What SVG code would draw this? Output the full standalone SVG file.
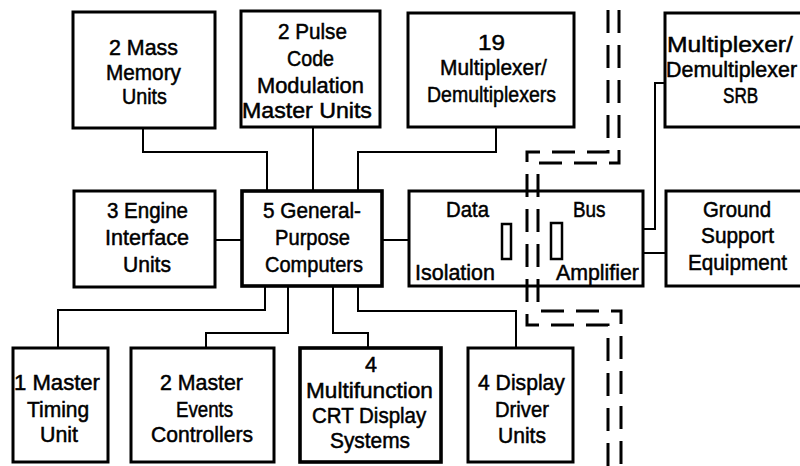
<svg xmlns="http://www.w3.org/2000/svg" width="800" height="466" viewBox="0 0 800 466">
<style>
.box{fill:#fff;stroke:#000;stroke-width:3}
.thick{stroke-width:3.6}
.sm{fill:#fff;stroke:#000;stroke-width:2.5}
.ln{fill:none;stroke:#000;stroke-width:2}
.dash{fill:none;stroke:#000;stroke-width:3;stroke-dasharray:23 12}
text{font-family:"Liberation Sans",Arial,sans-serif;font-size:22px;fill:#000;stroke:#000;stroke-width:0.5}
</style>
<rect width="800" height="466" fill="#fff"/>
<g id="connectors">
<path class="ln" d="M143,128 V152 H267 V191"/>
<path class="ln" d="M313,127 V191"/>
<path class="ln" d="M358,191 V152 H496 V127"/>
<path class="ln" d="M215,240 H242"/>
<path class="ln" d="M382,240 H502"/>
<path class="ln" d="M562,229 H655 V83 H665"/>
<path class="ln" d="M562,253 H666"/>
<path class="ln" d="M265,286 V310 H58 V348"/>
<path class="ln" d="M288,286 V333 H206 V348"/>
<path class="ln" d="M333,286 V333 H368 V348"/>
<path class="ln" d="M358,286 V311 H516 V348"/>
</g>
<g id="mass-memory">
<rect class="box" x="73" y="12" width="142" height="116"/>
<text transform="translate(109,55) scale(0.973,1)">2 Mass</text>
<text transform="translate(106,80) scale(0.944,1)">Memory</text>
<text transform="translate(122,104) scale(0.898,1)">Units</text>
</g>
<g id="pcm">
<rect class="box" x="241" y="11" width="139" height="116"/>
<text transform="translate(278,39) scale(0.94,1)">2 Pulse</text>
<text transform="translate(287,66) scale(0.894,1)">Code</text>
<text transform="translate(257,93) scale(0.994,1)">Modulation</text>
<text transform="translate(242,118) scale(1.053,1)">Master Units</text>
</g>
<g id="mux19">
<rect class="box" x="408" y="13" width="166" height="114"/>
<text transform="translate(478,50) scale(1.1,1)">19</text>
<text transform="translate(440,75) scale(0.951,1)">Multiplexer/</text>
<text transform="translate(427,102) scale(0.887,1)">Demultiplexers</text>
</g>
<g id="mux-srb">
<rect class="box" x="665" y="13" width="150" height="114"/>
<text transform="translate(667,52) scale(1.12,1)">Multiplexer/</text>
<text transform="translate(666,77) scale(0.975,1)">Demultiplexer</text>
<text transform="translate(723,103) scale(0.78,1)">SRB</text>
</g>
<g id="engine">
<rect class="box" x="74" y="191" width="141" height="96"/>
<text transform="translate(107,218) scale(0.933,1)">3 Engine</text>
<text transform="translate(105,245) scale(0.981,1)">Interface</text>
<text transform="translate(123,272) scale(0.958,1)">Units</text>
</g>
<g id="gpc">
<rect class="box thick" x="242" y="191" width="140" height="95"/>
<text transform="translate(263,218) scale(0.943,1)">5 General-</text>
<text transform="translate(275,245) scale(0.916,1)">Purpose</text>
<text transform="translate(265,272) scale(0.911,1)">Computers</text>
</g>
<g id="data-bus">
<rect class="box" x="409" y="191" width="234" height="95"/>
<rect class="sm" x="502" y="224" width="9" height="35"/>
<rect class="sm" x="551" y="223" width="11" height="36"/>
<text transform="translate(446,217) scale(0.925,1)">Data</text>
<text transform="translate(573,217) scale(0.86,1)">Bus</text>
<text transform="translate(415,280) scale(0.977,1)">Isolation</text>
<text transform="translate(556,280) scale(0.97,1)">Amplifier</text>
</g>
<g id="ground">
<rect class="box" x="666" y="191" width="150" height="95"/>
<text transform="translate(703,217) scale(0.927,1)">Ground</text>
<text transform="translate(701,243) scale(0.948,1)">Support</text>
<text transform="translate(688,270) scale(0.941,1)">Equipment</text>
</g>
<g id="timing">
<rect class="box" x="13" y="348" width="95" height="114"/>
<text transform="translate(14,390) scale(1.005,1)">1 Master</text>
<text transform="translate(27,417) scale(0.955,1)">Timing</text>
<text transform="translate(40,442) scale(0.972,1)">Unit</text>
</g>
<g id="events">
<rect class="box" x="131" y="348" width="143" height="114"/>
<text transform="translate(160,390) scale(0.97,1)">2 Master</text>
<text transform="translate(176,417) scale(0.85,1)">Events</text>
<text transform="translate(151,442) scale(0.959,1)">Controllers</text>
</g>
<g id="crt">
<rect class="box thick" x="300" y="348" width="141" height="114"/>
<text transform="translate(365,372) scale(0.98,1)">4</text>
<text transform="translate(306,398) scale(1.028,1)">Multifunction</text>
<text transform="translate(312,423) scale(0.932,1)">CRT Display</text>
<text transform="translate(330,448) scale(0.949,1)">Systems</text>
</g>
<g id="display-driver">
<rect class="box" x="468" y="348" width="105" height="114"/>
<text transform="translate(478,390) scale(0.961,1)">4 Display</text>
<text transform="translate(495,417) scale(0.92,1)">Driver</text>
<text transform="translate(498,443) scale(0.958,1)">Units</text>
</g>
<g id="boundary">
<path class="dash" d="M608,10 V152 H527 V325 H608 V466"/>
<path class="dash" d="M619,10 V163 H538 V311 H621 V466"/>
</g>
</svg>
